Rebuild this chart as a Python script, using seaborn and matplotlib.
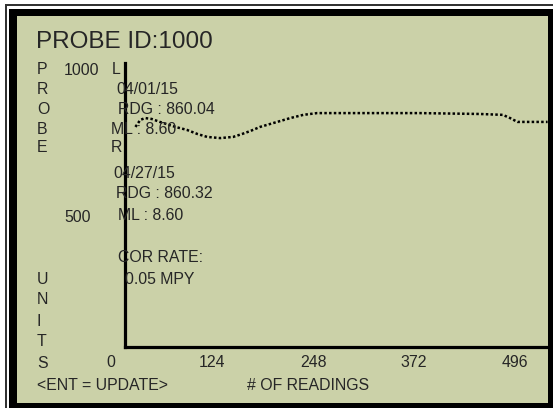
import matplotlib
matplotlib.use("Agg")
import matplotlib.pyplot as plt
from matplotlib.patches import Rectangle
import seaborn as sns
import pandas as pd

# ---- data ----
readings = [30, 36, 42, 50, 60, 79, 93, 106, 118, 134, 150, 161, 171, 183,
            204, 220, 236, 253, 306, 379, 453, 481, 490, 499, 514, 536]
probe_units = [803, 827, 833, 830, 820, 803, 793, 779, 769, 765, 769, 779, 789, 803,
               820, 833, 844, 850, 850, 850, 847, 844, 833, 820, 820, 820]
x_ticks = [0, 124, 248, 372, 496]
y_ticks = [500, 1000]
title = "PROBE ID:1000"
left_letters_top = ["P", "R", "O", "B", "E"]
left_letters_bottom = ["U", "N", "I", "T", "S"]
info_lines = ["L", "04/01/15", "RDG : 860.04", "ML : 8.60", "R", "04/27/15",
              "RDG : 860.32", "ML : 8.60", "COR RATE:", "0.05 MPY"]

sns.set_style("white")
plt.rcParams['font.family'] = ['Liberation Sans', 'DejaVu Sans']

W, H = 553, 408
BG = "#cbd1a8"
TXT = "#262626"
fig = plt.figure(figsize=(W / 100, H / 100), dpi=100)
fig.patch.set_facecolor("white")


def box(x0, y0, x1, y1, color, z=0):
    fig.add_artist(Rectangle((x0 / W, 1 - y1 / H), (x1 - x0) / W, (y1 - y0) / H,
                             transform=fig.transFigure, facecolor=color,
                             edgecolor="none", zorder=z))


# frame: thin outer line, thick black border, green screen
box(5, 4, W, 6, "#333333")
box(5, 4, 7, H, "#333333")
box(9, 9, W, H, "black")
box(17, 16, 548, 403, BG)

# axes: pixel box x 111..548, y 63..347
ax = fig.add_axes([111 / W, 1 - 347 / H, (548 - 111) / W, (347 - 63) / H])
ax.patch.set_visible(False)
df = pd.DataFrame({"reading": readings, "units": probe_units})
sns.lineplot(data=df, x="reading", y="units", ax=ax, color="black",
             linewidth=1.8, linestyle=(0, (1, 0.9)), zorder=3)
line = ax.get_lines()[0]
line.set_dash_capstyle("butt")

ax.set_xlim(0, 536.5)
ax.set_ylim(54.4, 1020.4)
ax.set_xlabel("")
ax.set_ylabel("")
for s in ["top", "right"]:
    ax.spines[s].set_visible(False)
ax.spines["left"].set_position(("data", 17.2))
ax.spines["left"].set_linewidth(2.3)
ax.spines["left"].set_color("black")
ax.spines["bottom"].set_linewidth(2.3)
ax.spines["bottom"].set_color("black")
ax.spines["bottom"].set_bounds(17.2, 536.5)
ax.spines["left"].set_bounds(54.4, 1020.4)

ax.set_xticks(x_ticks)
ax.set_xticklabels([str(v) for v in x_ticks])
ax.set_yticks(y_ticks)
ax.set_yticklabels([str(v) for v in y_ticks])
ax.tick_params(axis="x", length=0, pad=5.5, labelsize=11.4, labelcolor=TXT)
ax.tick_params(axis="y", length=0, pad=44, labelsize=11.4, labelcolor=TXT)
for lab in ax.get_yticklabels():
    lab.set_horizontalalignment("left")


def txt(px, py, s, size=11.4, ha="left"):
    fig.text(px / W, 1 - py / H, s, fontsize=size, color=TXT, ha=ha,
             va="center", zorder=5)


txt(36, 42, title, size=17.5)
for s, py in zip(left_letters_top, [70, 89, 110, 129, 148]):
    txt(37, py, s)
for s, py in zip(left_letters_bottom, [280, 300, 322, 342, 363]):
    txt(37, py, s)

info_pos = [(112, 69), (116, 89), (118, 110), (111, 129), (111, 148),
            (113, 173), (116, 193), (118, 216), (118, 258), (125, 280)]
for s, (px, py) in zip(info_lines, info_pos):
    txt(px, py, s)

txt(37, 385, "<ENT = UPDATE>")
txt(247, 385, "# OF READINGS")

fig.savefig("out.png", dpi=100, facecolor=fig.get_facecolor())
